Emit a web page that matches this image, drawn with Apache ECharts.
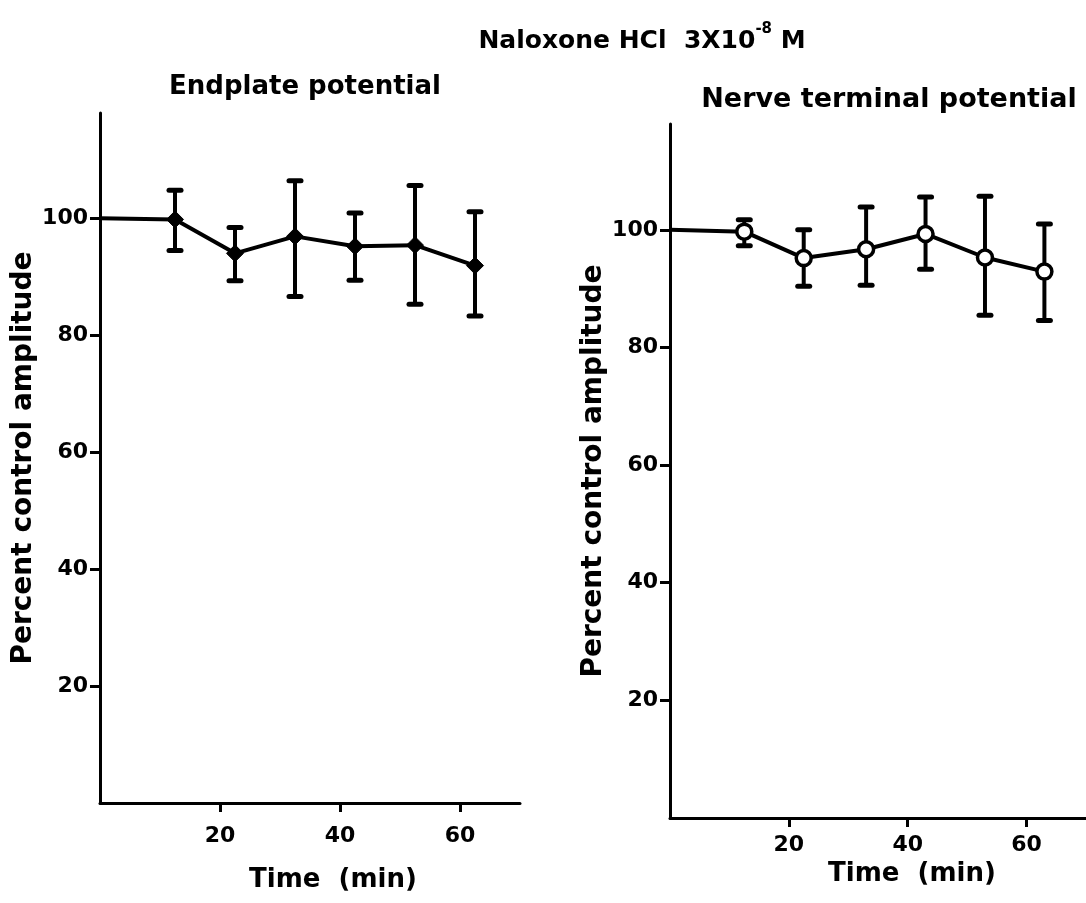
<!DOCTYPE html>
<html><head><meta charset="utf-8">
<script src="https://cdn.jsdelivr.net/npm/echarts@6/dist/echarts.min.js"></script>
<style>html,body{margin:0;padding:0;background:#fff}#c{width:1086px;height:903px}</style>
</head><body><div id="c"></div>
<script>
const mainTitle = 'Naloxone HCl  3X10';
const titleExp = '-8';
const titleUnit = 'M';
const leftTitle = 'Endplate potential';
const rightTitle = 'Nerve terminal potential';
const yName = 'Percent control amplitude';
const xName = 'Time  (min)';
const xTicks = [20, 40, 60];
const yTicks = [20, 40, 60, 80, 100];

const leftTime = [0, 12.5, 22.5, 32.5, 42.5, 52.5, 62.5];
const leftMean = [100, 99.8, 94.0, 96.9, 95.2, 95.4, 91.9];
const leftHigh = [null, 104.8, 98.4, 106.4, 100.9, 105.6, 101.1];
const leftLow  = [null, 94.5, 89.3, 86.6, 89.4, 85.3, 83.3];

const rightTime = [0, 12.5, 22.5, 33, 43, 53, 63];
const rightMean = [100, 99.7, 95.2, 96.7, 99.3, 95.3, 92.9];
const rightHigh = [null, 101.7, 100.0, 103.9, 105.6, 105.7, 101.0];
const rightLow  = [null, 97.3, 90.4, 90.6, 93.3, 85.5, 84.6];

const FONT = 'DejaVu Sans';
const chart = echarts.init(document.getElementById('c'), null, {renderer: 'canvas'});

function pts(t, m) { return t.map((x, i) => [x, m[i]]); }
function errs(t, lo, hi) {
  const out = [];
  t.forEach((x, i) => { if (lo[i] != null) out.push([x, lo[i], hi[i]]); });
  return out;
}
function errRender(params, api) {
  const x = api.value(0), lo = api.value(1), hi = api.value(2);
  const a = api.coord([x, hi]), b = api.coord([x, lo]);
  const cw = 6;
  const st = {stroke: '#000', lineWidth: 4};
  const cap = {stroke: '#000', lineWidth: 5, lineCap: 'round'};
  return {type: 'group', children: [
    {type: 'line', shape: {x1: a[0], y1: a[1], x2: b[0], y2: b[1]}, style: st},
    {type: 'line', shape: {x1: a[0] - cw, y1: a[1], x2: a[0] + cw, y2: a[1]}, style: cap},
    {type: 'line', shape: {x1: b[0] - cw, y1: b[1], x2: b[0] + cw, y2: b[1]}, style: cap}
  ]};
}
function xAx(gi, labelMargin, nameGap, shift) {
  return {
    type: 'value', gridIndex: gi, min: 0, max: 70,
    name: xName, nameLocation: 'middle', nameGap: nameGap,
    nameTextStyle: {fontFamily: FONT, fontWeight: 'bold', fontSize: 26, color: '#000', padding: [0, 0, 0, shift]},
    axisLine: {show: true, lineStyle: {color: '#000', width: 3}},
    axisTick: {show: true, customValues: xTicks, length: 9, inside: false, lineStyle: {color: '#000', width: 3}},
    axisLabel: {customValues: xTicks, margin: labelMargin, fontFamily: FONT, fontWeight: 'bold', fontSize: 22, color: '#000'},
    splitLine: {show: false}
  };
}
function yAx(gi, nameGap) {
  return {
    type: 'value', gridIndex: gi, min: 0, max: 118,
    name: yName, nameLocation: 'middle', nameGap: nameGap, nameRotate: 90,
    nameTextStyle: {fontFamily: FONT, fontWeight: 'bold', fontSize: 28, color: '#000'},
    axisLine: {show: true, lineStyle: {color: '#000', width: 3}},
    axisTick: {show: true, customValues: yTicks, length: 10, lineStyle: {color: '#000', width: 3}},
    axisLabel: {customValues: yTicks, margin: 12, fontFamily: FONT, fontWeight: 'bold', fontSize: 22, color: '#000'},
    splitLine: {show: false}
  };
}

chart.setOption({
  animation: false,
  backgroundColor: '#fff',
  title: [
    {text: '{a|' + mainTitle + '}{s|' + titleExp + '}{a| ' + titleUnit + '}', left: 637, top: 17, textAlign: 'center',
     textStyle: {rich: {
       a: {fontFamily: FONT, fontWeight: 'bold', fontSize: 25, color: '#000', verticalAlign: 'bottom', lineHeight: 32},
       s: {fontFamily: FONT, fontWeight: 'bold', fontSize: 15, color: '#000', verticalAlign: 'top', lineHeight: 32, padding: [0, 0, 13, 0]}
     }}},
    {text: leftTitle, left: 300, top: 69, textAlign: 'center',
     textStyle: {fontFamily: FONT, fontWeight: 'bold', fontSize: 26, color: '#000'}},
    {text: rightTitle, left: 884, top: 81, textAlign: 'center',
     textStyle: {fontFamily: FONT, fontWeight: 'bold', fontSize: 27, color: '#000'}}
  ],
  grid: [
    {left: 100, top: 113, width: 420, height: 690},
    {left: 670, top: 124, width: 420, height: 694}
  ],
  xAxis: [xAx(0, 22, 64, 46), xAx(1, 16, 42, 68)],
  yAxis: [yAx(0, 60), yAx(1, 58)],
  series: [
    {type: 'custom', xAxisIndex: 0, yAxisIndex: 0, renderItem: errRender,
     encode: {x: 0, y: [1, 2]}, data: errs(leftTime, leftLow, leftHigh), z: 2},
    {type: 'line', xAxisIndex: 0, yAxisIndex: 0, data: pts(leftTime, leftMean),
     symbol: 'diamond', symbolSize: (v, p) => p.dataIndex === 0 ? 0 : 17,
     lineStyle: {color: '#000', width: 4}, itemStyle: {color: '#000', borderColor: '#000'}, z: 3},
    {type: 'custom', xAxisIndex: 1, yAxisIndex: 1, renderItem: errRender,
     encode: {x: 0, y: [1, 2]}, data: errs(rightTime, rightLow, rightHigh), z: 2},
    {type: 'line', xAxisIndex: 1, yAxisIndex: 1, data: pts(rightTime, rightMean),
     symbol: 'circle', symbolSize: (v, p) => p.dataIndex === 0 ? 0 : 15,
     lineStyle: {color: '#000', width: 4}, itemStyle: {color: '#fff', borderColor: '#000', borderWidth: 3.5}, z: 3}
  ]
});
</script>
</body></html>
